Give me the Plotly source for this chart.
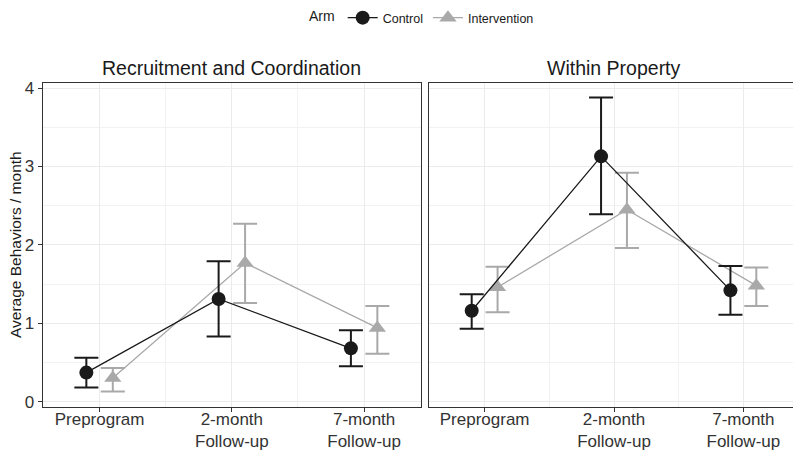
import plotly.graph_objects as go

categories = ["Preprogram", "2-month<br>Follow-up", "7-month<br>Follow-up"]
panels = ["Recruitment and Coordination", "Within Property"]
arms = ["Control", "Intervention"]

# Recruitment and Coordination
rc_control = [0.37, 1.31, 0.68]
rc_control_lo = [0.18, 0.83, 0.45]
rc_control_hi = [0.56, 1.79, 0.91]
rc_interv = [0.30, 1.77, 0.94]
rc_interv_lo = [0.13, 1.26, 0.61]
rc_interv_hi = [0.43, 2.27, 1.22]

# Within Property
wp_control = [1.16, 3.13, 1.42]
wp_control_lo = [0.93, 2.39, 1.11]
wp_control_hi = [1.37, 3.88, 1.73]
wp_interv = [1.46, 2.45, 1.48]
wp_interv_lo = [1.14, 1.96, 1.22]
wp_interv_hi = [1.72, 2.92, 1.71]

y_ticks = [0, 1, 2, 3, 4]

colors = {"Control": "#1a1a1a", "Intervention": "#a9a9a9"}
symbols = {"Control": "circle", "Intervention": "triangle-up"}
dodge = {"Control": -0.1, "Intervention": 0.1}

data = {
    0: {"Control": (rc_control, rc_control_lo, rc_control_hi),
        "Intervention": (rc_interv, rc_interv_lo, rc_interv_hi)},
    1: {"Control": (wp_control, wp_control_lo, wp_control_hi),
        "Intervention": (wp_interv, wp_interv_lo, wp_interv_hi)},
}

# figure is placed by the page at an 8px body offset
W, H = 793, 446

def px_x(v):
    return (v - 8) / W

def px_y(v):
    return 1 - (v - 8) / H

fig = go.Figure()
for p in range(2):
    xa = "x" if p == 0 else "x2"
    ya = "y" if p == 0 else "y2"
    for arm in ["Intervention", "Control"]:
        vals, lo, hi = data[p][arm]
        xs = [i + dodge[arm] for i in range(len(categories))]
        fig.add_trace(go.Scatter(
            x=xs, y=vals, xaxis=xa, yaxis=ya,
            mode="lines+markers", name=arm,
            legendrank=1 if arm == "Control" else 2,
            showlegend=(p == 0),
            line=dict(color=colors[arm], width=1.3),
            marker=dict(symbol=symbols[arm], size=14 if arm == "Control" else 15,
                        color=colors[arm], line=dict(width=0)),
            error_y=dict(type="data", symmetric=False,
                         array=[h - v for h, v in zip(hi, vals)],
                         arrayminus=[v - l for v, l in zip(vals, lo)],
                         color=colors[arm], thickness=2, width=12),
        ))

yrange = [-0.065, 4.07]
xrange = [-0.43, 2.43]
grid_major = "#ebebeb"
tick_font = dict(size=17, color="#333333", family="Liberation Sans, Arial")

common_x = dict(range=xrange, tickmode="array", tickvals=[0, 1, 2], ticktext=categories,
                showgrid=True, gridcolor=grid_major, gridwidth=1.1,
                minor=dict(tickvals=[0.5, 1.5], showgrid=True, gridcolor="#f2f2f2", gridwidth=0.6),
                ticks="outside", ticklen=4, tickcolor="#333333", tickwidth=1.1,
                tickfont=tick_font, ticklabelstandoff=-7,
                zeroline=False, showline=True, linecolor="#333333", linewidth=1.2, mirror=True,
                automargin=False, fixedrange=True)
common_y = dict(range=yrange, tickmode="array", tickvals=y_ticks,
                showgrid=True, gridcolor=grid_major, gridwidth=1.1,
                minor=dict(tickvals=[0.5, 1.5, 2.5, 3.5], showgrid=True, gridcolor="#f2f2f2", gridwidth=0.6),
                ticks="outside", ticklen=4, tickcolor="#333333", tickwidth=1.1,
                tickfont=tick_font,
                zeroline=False, showline=True, linecolor="#333333", linewidth=1.2, mirror=True,
                automargin=False, fixedrange=True)

p1 = [px_x(42.7), px_x(421)]
p2 = [px_x(429), px_x(799)]
yd = [px_y(406.7), px_y(82.7)]

fig.update_layout(
    width=W, height=H,
    margin=dict(l=0, r=0, t=0, b=0, autoexpand=False),
    plot_bgcolor="white", paper_bgcolor="white",
    font=dict(family="Liberation Sans, Arial", color="#1a1a1a"),
    xaxis=dict(common_x, domain=p1, anchor="y"),
    yaxis=dict(common_y, domain=yd, anchor="x"),
    xaxis2=dict(common_x, domain=p2, anchor="y2"),
    yaxis2=dict(common_y, domain=yd, anchor="x2", showticklabels=False, ticks=""),
    legend=dict(orientation="h", x=px_x(423), xanchor="center", y=px_y(18), yanchor="middle",
                title=dict(text="Arm", font=dict(size=14, color="#1a1a1a")),
                font=dict(size=12.5, color="#1a1a1a"), itemwidth=30, traceorder="normal"),
    annotations=[
        dict(text=panels[0], x=(p1[0] + p1[1]) / 2, y=yd[1], xref="paper", yref="paper",
             xanchor="center", yanchor="bottom", yshift=2, showarrow=False,
             font=dict(size=19.5, color="#1a1a1a")),
        dict(text=panels[1], x=(p2[0] + p2[1]) / 2, y=yd[1], xref="paper", yref="paper",
             xanchor="center", yanchor="bottom", yshift=2, showarrow=False,
             font=dict(size=19.5, color="#1a1a1a")),
        dict(text="Average Behaviors / month", x=px_x(15), y=px_y(245), xref="paper", yref="paper",
             xanchor="center", yanchor="middle", textangle=-90, showarrow=False,
             font=dict(size=15.5, color="#1a1a1a")),
    ],
)

fig.write_html("out.html")
